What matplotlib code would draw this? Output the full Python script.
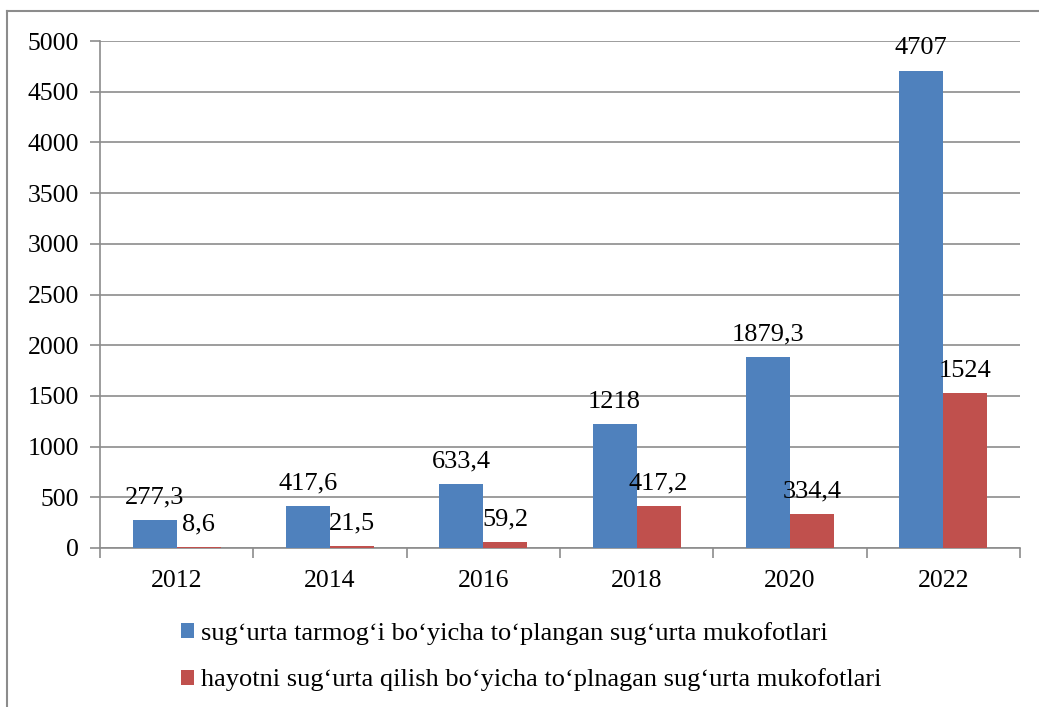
import matplotlib.pyplot as plt
import matplotlib.lines as mlines
import numpy as np

years = ["2012", "2014", "2016", "2018", "2020", "2022"]
total_premiums = [277.3, 417.6, 633.4, 1218, 1879.3, 4707]
life_premiums = [8.6, 21.5, 59.2, 417.2, 334.4, 1524]
series_names = [
    "sug‘urta tarmog‘i bo‘yicha to‘plangan sug‘urta mukofotlari",
    "hayotni sug‘urta qilish bo‘yicha to‘plnagan sug‘urta mukofotlari",
]

BLUE = "#4F81BD"
RED = "#C0504D"
GRID = "#8C8C8C"

plt.rcParams["font.family"] = ["Liberation Serif", "DejaVu Serif"]


def fmt(v: float) -> str:
    return f"{v:g}".replace(".", ",")


fig = plt.figure(figsize=(10.39, 7.07), dpi=100)
ax = fig.add_axes([100 / 1039, 1 - 548 / 707, 920 / 1039, 507 / 707])

x = np.arange(len(years))
w = 0.287
b1 = ax.bar(x - w / 2, total_premiums, w, color=BLUE, label=series_names[0], zorder=3)
b2 = ax.bar(x + w / 2, life_premiums, w, color=RED, label=series_names[1], zorder=3)

for bars, vals in ((b1, total_premiums), (b2, life_premiums)):
    for rect, v in zip(bars, vals):
        ax.annotate(
            fmt(v),
            (rect.get_x() + rect.get_width() / 2, rect.get_height()),
            xytext=(0, 12),
            textcoords="offset points",
            ha="center",
            va="baseline",
            fontsize=19,
            zorder=4,
        )

ax.set_xlim(-0.5, len(years) - 0.5)
ax.set_ylim(0, 5000)
ax.set_yticks(np.arange(0, 5001, 500))
ax.yaxis.grid(True, color=GRID, linewidth=1.2, zorder=0)
ax.set_xticks(x)
ax.set_xticklabels(years)
ax.set_xticks(np.arange(-0.5, len(years), 1), minor=True)
ax.tick_params(axis="x", which="major", length=0, pad=16, labelsize=18.5)
ax.tick_params(axis="x", which="minor", length=7, color=GRID, width=1.2)
ax.tick_params(axis="y", length=7, color=GRID, width=1.2, labelsize=18.5, pad=8)

for side in ("top", "right"):
    ax.spines[side].set_visible(False)
for side in ("left", "bottom"):
    ax.spines[side].set_color(GRID)
    ax.spines[side].set_linewidth(1.2)

fig.legend(
    handles=[b1, b2],
    loc="upper left",
    bbox_to_anchor=(157 / 1039, 1 - 598 / 707),
    frameon=False,
    fontsize=19,
    handlelength=0.5,
    handleheight=0.5,
    handletextpad=0.25,
    labelspacing=0.9,
)

# outer chart frame (only left and top edges visible in the crop)
fig.add_artist(mlines.Line2D([7 / 1039, 7 / 1039], [0, 1 - 11 / 707], color=GRID, lw=1.5, transform=fig.transFigure))
fig.add_artist(mlines.Line2D([7 / 1039, 1.01], [1 - 11 / 707, 1 - 11 / 707], color=GRID, lw=1.5, transform=fig.transFigure))

fig.savefig("out.png", dpi=100)
